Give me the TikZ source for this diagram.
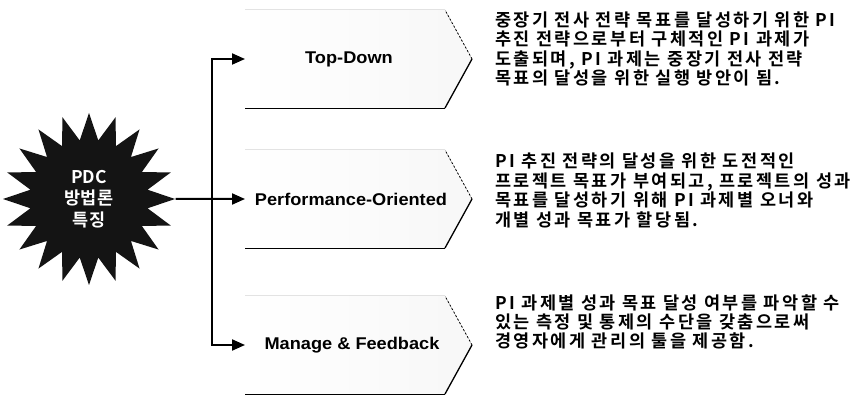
\documentclass[tikz,border=0pt]{standalone}
\usepackage{fontspec}
\usetikzlibrary{shapes.geometric,arrows.meta}
\setmainfont{Liberation Sans}
\newfontfamily\labfont{Liberation Sans}[FakeStretch=1.07]
\newfontfamily\krfont{Noto Sans CJK KR}[LetterSpace=14,BoldFont={Noto Sans CJK KR Bold}]
\newfontfamily\krstar{Noto Sans CJK KR}[BoldFont={Noto Sans CJK KR Bold}]
\begin{document}
\begin{tikzpicture}[x=1pt,y=-1pt,
  >={Triangle[length=13pt,width=11pt]},
  starbox/.style={star, star points=20, star point ratio=1.45, minimum size=172pt,
    inner sep=0pt, fill=black!92, text=white, align=center,
    font=\krstar\bfseries\fontsize{17.5}{21.5}\selectfont},
  chevfill/.style={left color=white, right color=black!3},
  lbl/.style={inner sep=0pt, font=\labfont\bfseries\fontsize{17}{20}\selectfont},
  desc/.style={inner sep=0pt, anchor=west, align=left,
    font=\krfont\bfseries\fontsize{17.5}{19.4}\selectfont},
  conn/.style={line width=2pt}
]
\useasboundingbox (0,0) rectangle (862,395);

\foreach \yc/\nm in {59/td,199/po,345/mf}{
  \fill[chevfill] (245,\yc-49) -- (445,\yc-49) -- (472,\yc) -- (445,\yc+49) -- (245,\yc+49) -- cycle;
  \draw[line width=0.7pt] (245,\yc+49) -- (445,\yc+49);
  \draw[line width=1.3pt] (445,\yc+49) -- (472,\yc);
  \draw[line width=0.8pt, dash pattern=on 2pt off 2pt] (472,\yc) -- (445,\yc-49);
  \coordinate (\nm L) at (245,\yc);
}

\node[starbox] (pdc) at (89,199) {PDC\\방법론\\특징};

\coordinate (jt) at (212,59);
\coordinate (jb) at (212,345);

\node[lbl] (tdT) at (349,59) {Top-Down};
\node[lbl] (poT) at (351,199) {Performance-Oriented};
\node[lbl] (mfT) at (352,345) {Manage \& Feedback};

\draw[conn, <->] (tdL) -- (jt) -- (jb) -- (mfL);
\draw[conn, ->] (pdc.east) -- (poL);

\node[desc] (d1) at (495,49) {중장기 전사 전략 목표를 달성하기 위한 PI\\추진 전략으로부터 구체적인 PI 과제가\\도출되며, PI 과제는 중장기 전사 전략\\목표의 달성을 위한 실행 방안이 됨.};
\node[desc] (d2) at (495,190.5) {PI 추진 전략의 달성을 위한 도전적인\\프로젝트 목표가 부여되고, 프로젝트의 성과\\목표를 달성하기 위해 PI 과제별 오너와\\개별 성과 목표가 할당됨.};
\node[desc] (d3) at (495,322) {PI 과제별 성과 목표 달성 여부를 파악할 수\\있는 측정 및 통제의 수단을 갖춤으로써\\경영자에게 관리의 툴을 제공함.};
\end{tikzpicture}
\end{document}
